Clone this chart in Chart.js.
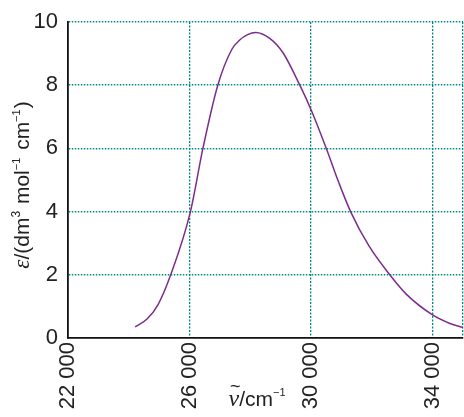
<!DOCTYPE html>
<html>
<head>
<meta charset="utf-8">
<script src="https://cdn.jsdelivr.net/npm/chart.js@4/dist/chart.umd.min.js"></script>
<style>
html,body{margin:0;padding:0;background:#fff;}
#wrap{width:464px;height:417px;position:relative;}
</style>
</head>
<body>
<div id="wrap"><canvas id="c" width="464" height="417"></canvas></div>
<script>
// wavenumber / cm^-1
const wavenumbers = [24210, 24600, 24960, 25380, 26030, 26440, 26930, 27390, 27650, 27910, 28180, 28640, 29080, 29630, 30010, 30520, 30900, 31300, 31900, 32590, 33140, 34000, 34570, 35000];
// molar absorption coefficient / (dm3 mol-1 cm-1)
const epsilonValues = [0.35, 0.6, 1.05, 2.0, 4.0, 6.0, 8.0, 9.13, 9.43, 9.60, 9.67, 9.48, 9.02, 8.0, 7.2, 5.95, 4.95, 4.0, 2.92, 2.0, 1.38, 0.73, 0.46, 0.33];
const xTickValues = [22000, 26000, 30000, 34000];
const xTickLabels = ['22 000', '26 000', '30 000', '34 000'];
const yTickValues = [0, 2, 4, 6, 8, 10];

const SANS = '"Liberation Sans", Arial, sans-serif';
const SERIF = '"Liberation Serif", "Times New Roman", serif';
const GRID = '#008783';

function drawRich(ctx, segs, cx, baseY) {
  let total = 0;
  segs.forEach(s => { ctx.font = s.font; s.w = ctx.measureText(s.t).width; total += s.w + (s.gap || 0); });
  let x = cx - total / 2;
  segs.forEach(s => {
    ctx.font = s.font;
    ctx.fillText(s.t, x, baseY + (s.dy || 0));
    if (s.tilde) {
      ctx.font = s.tilde;
      const tw = ctx.measureText('~').width;
      ctx.fillText('~', x + s.w / 2 - tw / 2 + 1.5, baseY - 14);
    }
    x += s.w + (s.gap || 0);
  });
}

const titlePlugin = {
  id: 'titles',
  afterDraw(chart) {
    const ctx = chart.ctx;
    ctx.save();
    ctx.fillStyle = '#222';
    ctx.textBaseline = 'alphabetic';
    ctx.textAlign = 'left';
    // y title
    ctx.save();
    ctx.translate(29, 185);
    ctx.rotate(-Math.PI / 2);
    drawRich(ctx, [
      {t: 'ε', font: 'italic 23px ' + SERIF},
      {t: '/(dm', font: '21px ' + SANS},
      {t: '3', font: '12px ' + SANS, dy: -9, gap: 1},
      {t: ' mol', font: '21px ' + SANS},
      {t: '−1', font: '11px ' + SANS, dy: -9, gap: 2},
      {t: ' cm', font: '21px ' + SANS},
      {t: '−1', font: '11px ' + SANS, dy: -9, gap: 1},
      {t: ')', font: '21px ' + SANS}
    ], 0, 0);
    ctx.restore();
    // x title
    drawRich(ctx, [
      {t: 'ν', font: 'italic 24px ' + SERIF, tilde: '18px ' + SANS},
      {t: '/cm', font: '21px ' + SANS},
      {t: '−1', font: '11px ' + SANS, dy: -10}
    ], 257, 406);
    ctx.restore();
  }
};

new Chart(document.getElementById('c'), {
  type: 'line',
  data: {
    datasets: [{
      data: wavenumbers.map((x, i) => ({x: x, y: epsilonValues[i]})),
      borderColor: '#7b2d8b',
      borderWidth: 1.5,
      pointRadius: 0,
      fill: false,
      cubicInterpolationMode: 'monotone'
    }]
  },
  options: {
    responsive: false,
    animation: false,
    devicePixelRatio: 1,
    layout: {padding: {top: 22, right: 1, left: 0, bottom: 0}},
    plugins: {legend: {display: false}, tooltip: {enabled: false}},
    scales: {
      x: {
        type: 'linear',
        min: 22000,
        max: 35000,
        afterBuildTicks(scale) {
          scale.ticks = xTickValues.concat([35000]).map(v => ({value: v}));
        },
        afterFit(scale) {
          scale.height = 79;
          scale.paddingLeft = 0;
          scale.paddingRight = 0;
        },
        ticks: {
          autoSkip: false,
          maxRotation: 90,
          minRotation: 90,
          padding: 4,
          color: '#222',
          font: {family: SANS, size: 22},
          callback(v) {
            const i = xTickValues.indexOf(v);
            return i >= 0 ? xTickLabels[i] : '';
          }
        },
        grid: {
          color: ctx => (ctx.tick && ctx.tick.value === 22000) ? 'rgba(0,0,0,0)' : GRID,
          lineWidth: 1.3,
          drawTicks: false
        },
        border: {display: true, color: '#111', width: 1.8, dash: [2, 1.5]},
        title: {display: false}
      },
      y: {
        type: 'linear',
        min: 0,
        max: 10,
        afterBuildTicks(scale) {
          scale.ticks = yTickValues.map(v => ({value: v}));
        },
        afterFit(scale) {
          scale.width = 68;
          scale.paddingTop = 0;
          scale.paddingBottom = 0;
        },
        ticks: {
          padding: 10,
          color: '#222',
          font: {family: SANS, size: 22}
        },
        grid: {
          color: ctx => (ctx.tick && ctx.tick.value === 0) ? 'rgba(0,0,0,0)' : GRID,
          lineWidth: 1.5,
          drawTicks: false
        },
        border: {display: true, color: '#111', width: 1.8, dash: [1.5, 1.5]},
        title: {display: false}
      }
    }
  },
  plugins: [titlePlugin]
});
</script>
</body>
</html>
